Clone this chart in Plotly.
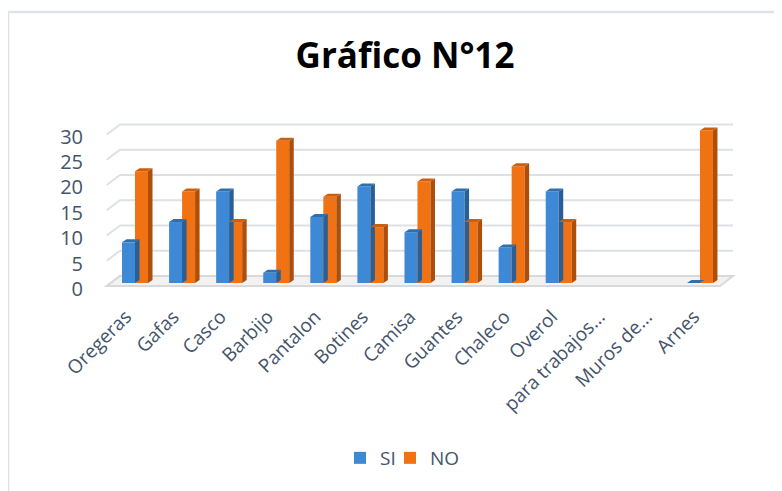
import plotly.graph_objects as go

# ---------------- data ----------------
categories = ["Oregeras", "Gafas", "Casco", "Barbijo", "Pantalon", "Botines", "Camisa",
              "Guantes", "Chaleco", "Overol", "para trabajos...", "Muros de...", "Arnes"]
si_values = [8, 12, 18, 2, 13, 19, 10, 18, 7, 18, None, None, 0]
no_values = [22, 18, 12, 28, 17, 11, 20, 12, 23, 12, None, None, 30]
y_ticks = [0, 5, 10, 15, 20, 25, 30]
title_text = "Gráfico N°12"

# ---------------- layout geometry (pixels, in screenshot coordinates) ----------------
W_FIG, H_FIG = 782, 491
OFF = 8                                      # page body margin
PL, PR, PT, PB = 100, 740, 115, 295          # plot area (screenshot px)
X0PX, XSTEP = 135.0, 47.08                   # px of category 0, px per category
Y0PX, YSTEP = 283.0, 5.08                    # px of value 0, px per unit
LBL0PX, LBLSTEP = 126.0, 47.33               # category label anchors (px)


def px2x(px):
    return (px - X0PX) / XSTEP


def py2y(py):
    return (Y0PX - py) / YSTEP


BW = 13 / XSTEP      # bar width in category units
DX = 4.5 / XSTEP     # depth offset x
DY = 3.0 / YSTEP     # depth offset y

FONT = "Open Sans"
TXT = "#44546a"

fig = go.Figure()


def add_series(name, values, offset, front, side, top, legend):
    xs_side, ys_side, xs_top, ys_top = [], [], [], []
    for i, v in enumerate(values):
        if v is None:
            continue
        xl = i + offset
        xr = xl + BW
        xs_side += [xr, xr + DX, xr + DX, xr, xr, None]
        ys_side += [0, DY, v + DY, v, 0, None]
        xs_top += [xl, xr, xr + DX, xl + DX, xl, None]
        ys_top += [v, v, v + DY, v + DY, v, None]
    fig.add_trace(go.Scatter(x=xs_side, y=ys_side, mode="lines", fill="toself",
                             fillcolor=side, line=dict(width=0), hoverinfo="skip",
                             showlegend=False))
    fig.add_trace(go.Scatter(x=xs_top, y=ys_top, mode="lines", fill="toself",
                             fillcolor=top, line=dict(width=0), hoverinfo="skip",
                             showlegend=False))
    fig.add_trace(go.Bar(x=list(range(len(values))), y=values, name=name,
                         width=BW, offset=offset, legend=legend,
                         marker=dict(color=front, line=dict(width=0))))


add_series("SI", si_values, -BW, "#3d89d6", "#285f96", "#2f6fae", "legend")
add_series("NO", no_values, 0.0, "#f07212", "#ad4e0b", "#cc5f0d", "legend2")

# ---------------- back wall gridlines, floor ----------------
shapes = []
for v in y_ticks:
    yf = 286 - 5.05 * v
    yb = 276 - 5.05 * v
    path = "M {},{} L {},{} L {},{}".format(px2x(106.7), py2y(yf), px2x(120), py2y(yb),
                                            px2x(733), py2y(yb))
    shapes.append(dict(type="path", path=path, xref="x", yref="y", layer="below",
                       line=dict(color="#dde1e6", width=2)))
floor = "M {},{} L {},{} L {},{} L {},{} Z".format(px2x(106.7), py2y(286), px2x(720), py2y(286),
                                                   px2x(733), py2y(276), px2x(120), py2y(276))
shapes.append(dict(type="path", path=floor, xref="x", yref="y", layer="below",
                   fillcolor="#f2f2f2", line=dict(color="#d9d9d9", width=2)))

# chart border
pw, ph = PR - PL, PB - PT
shapes.append(dict(type="rect", xref="paper", yref="paper",
                   x0=(8 - PL) / pw, x1=(820 - PL) / pw,
                   y0=(PB - 520) / ph, y1=(PB - 12) / ph,
                   line=dict(color="#dfe3e8", width=2.5), fillcolor="rgba(0,0,0,0)"))

legend_common = dict(orientation="h", xanchor="left", yanchor="middle",
                     y=(PB - 458) / ph, itemwidth=30, bgcolor="rgba(0,0,0,0)",
                     font=dict(family=FONT, size=19, color=TXT))

fig.update_layout(
    width=W_FIG, height=H_FIG,
    margin=dict(l=PL - OFF, r=W_FIG - PR + OFF, t=PT - OFF, b=H_FIG - PB + OFF),
    paper_bgcolor="white", plot_bgcolor="rgba(0,0,0,0)",
    barmode="overlay",
    shapes=shapes,
    title=dict(text="<b>" + title_text + "</b>", x=(405 - OFF) / W_FIG, xref="container",
               y=1 - (56 - OFF) / H_FIG, yref="container", xanchor="center", yanchor="middle",
               font=dict(family=FONT, size=35, color="#000000")),
    legend=dict(legend_common, x=(340 - PL) / pw),
    legend2=dict(legend_common, x=(390 - PL) / pw),
    xaxis=dict(range=[px2x(PL), px2x(PR)], tickmode="array",
               tickvals=[px2x(LBL0PX + LBLSTEP * i) for i in range(len(categories))],
               ticktext=categories,
               tickangle=-45, showgrid=False, zeroline=False, showline=False,
               ticks="", ticklabelstandoff=6,
               tickfont=dict(family=FONT, size=19, color=TXT)),
    yaxis=dict(range=[py2y(PB), py2y(PT)], tickmode="array",
               tickvals=[v - 6 / YSTEP for v in y_ticks], ticktext=[str(v) for v in y_ticks],
               showgrid=False, zeroline=False, showline=False, ticks="",
               ticklabelstandoff=16,
               tickfont=dict(family=FONT, size=20, color=TXT)),
)

fig.write_html("out.html")
